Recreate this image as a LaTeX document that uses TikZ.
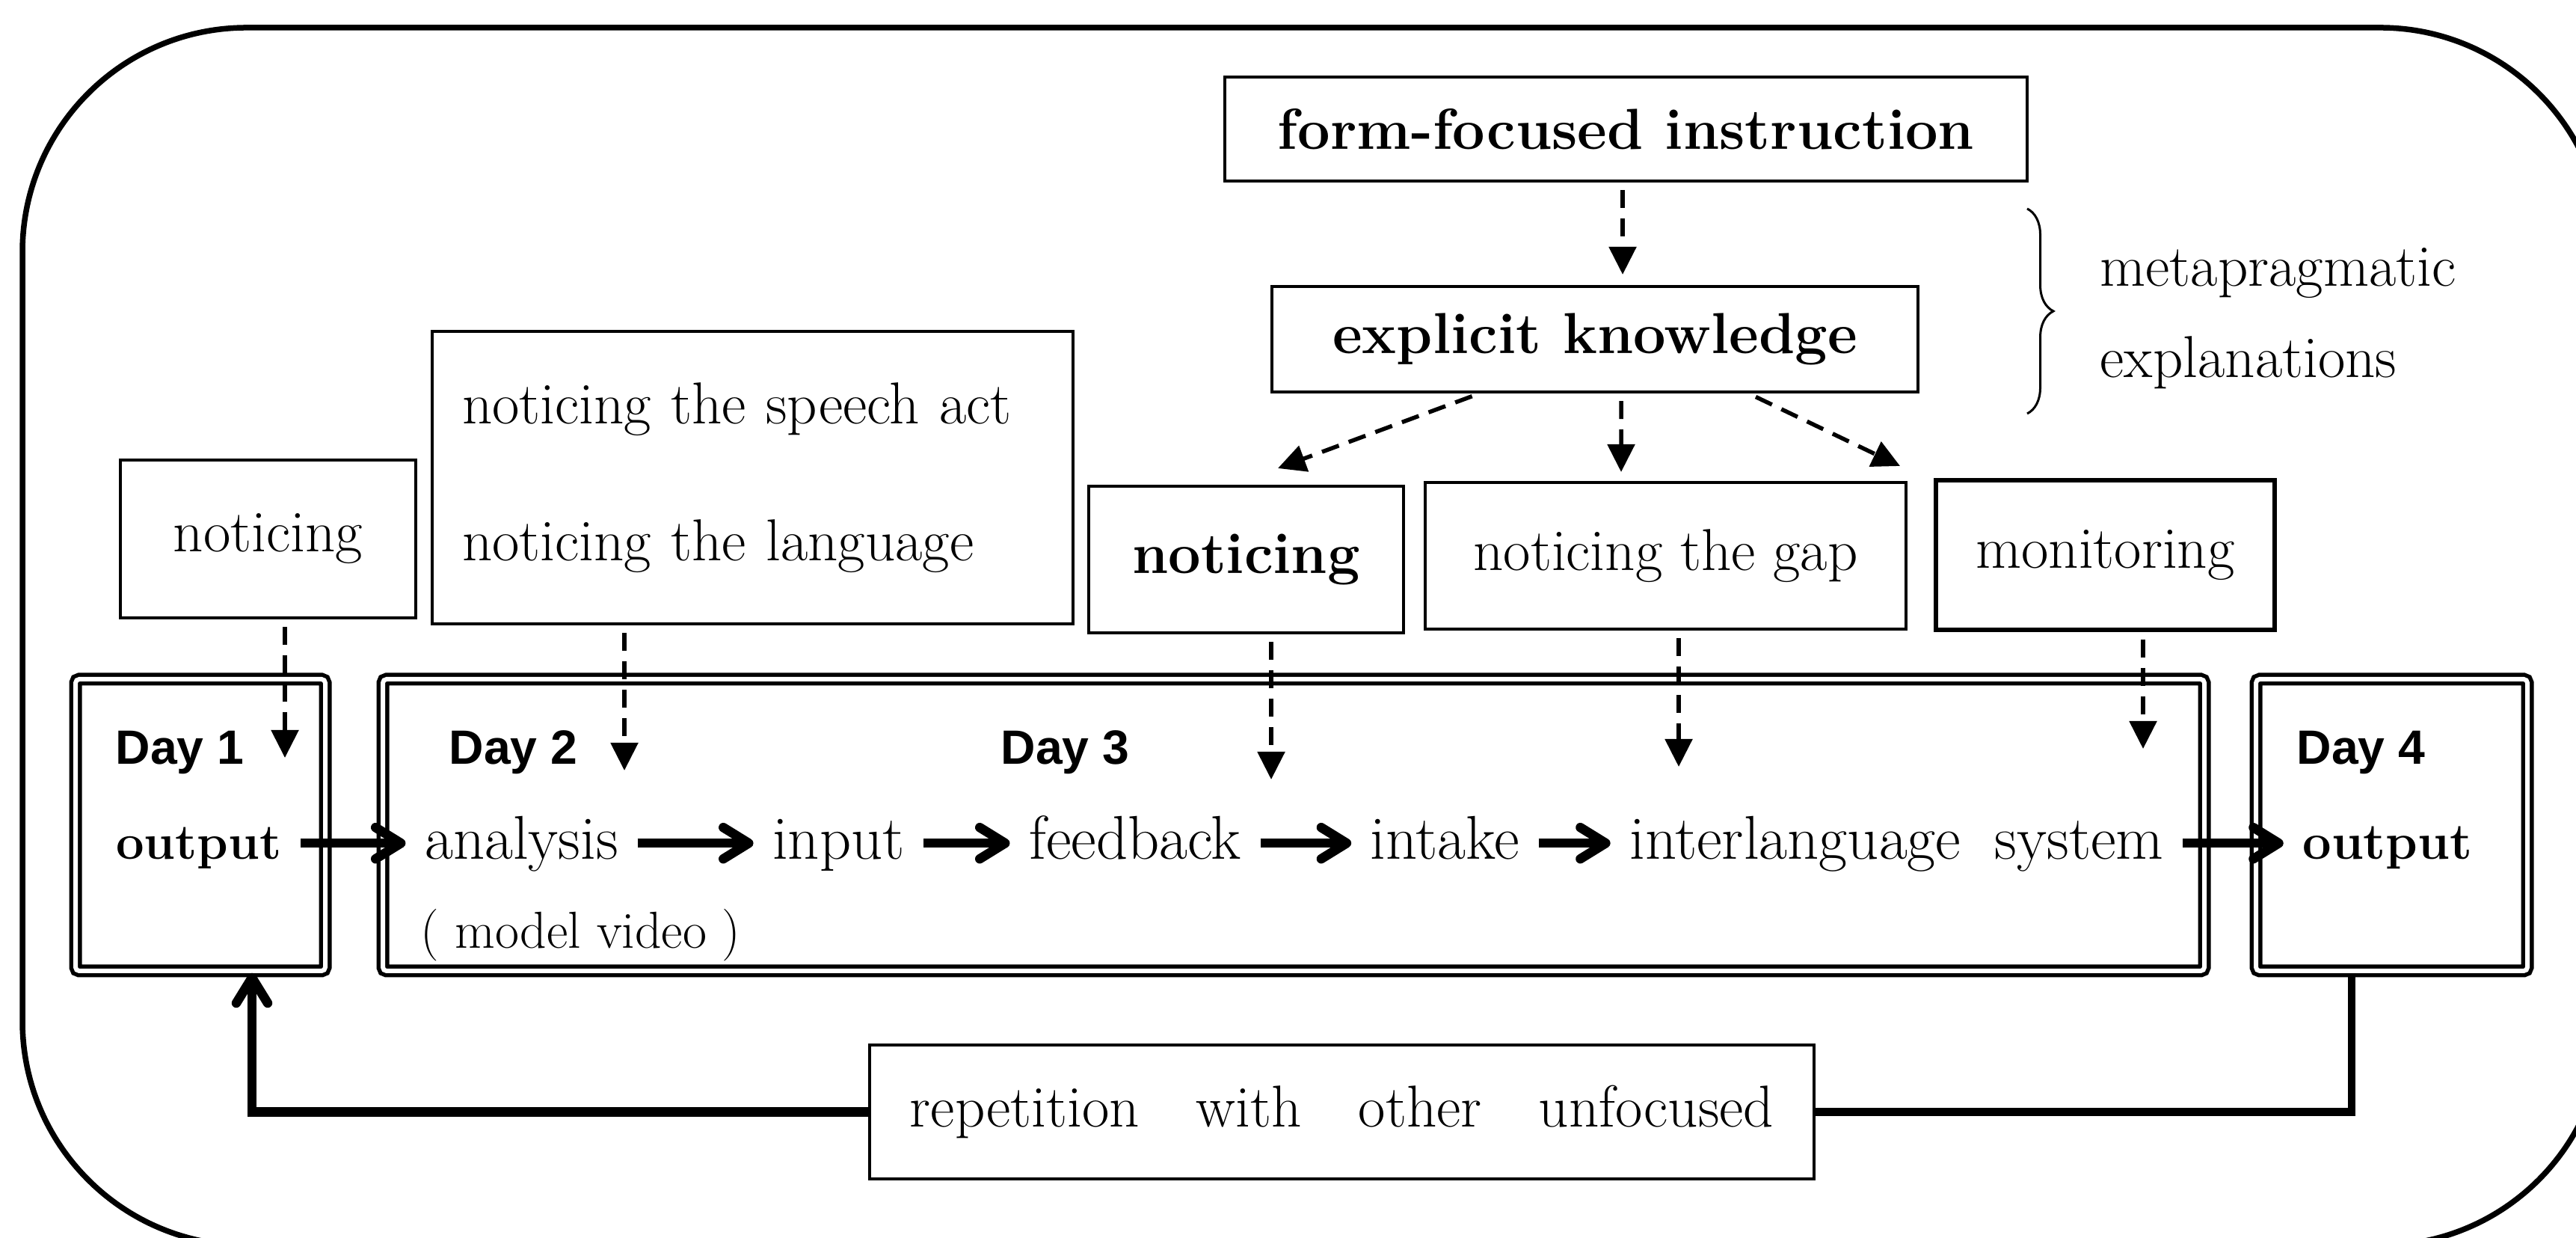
\documentclass[tikz,border=0pt]{standalone}
\usepackage{fontspec}
\newfontfamily\daysf{Liberation Sans}
\usetikzlibrary{arrows.meta,decorations.pathreplacing}

\tikzset{
  box/.style={draw, line width=0.45mm, inner sep=0pt, font=\fontsize{22.5}{25}\selectfont},
  dayframe/.style={draw, double, line width=0.55mm, double distance=0.6mm, rounded corners=0.5mm, inner sep=0pt},
  stage/.style={anchor=base, inner xsep=2.5mm, inner ysep=0pt, text height=14pt, text depth=1.6pt, font=\fontsize{23.5}{27}\selectfont},
  daylab/.style={anchor=base west, inner sep=0pt, font=\daysf\bfseries\fontsize{18.3}{21}\selectfont},
  flow/.style={line width=1.25mm, -{Straight Barb[length=3.4mm,width=4.2mm,round]}},
  cue/.style={line width=0.55mm, dash pattern=on 2.4mm off 1.4mm, shorten <=1mm, -{Triangle[length=3.7mm,width=3.6mm]}},
  loopline/.style={line width=1.05mm}
}

\begin{document}
\begin{tikzpicture}
  \useasboundingbox (0,0) rectangle (34.45,16.55);
  \draw[line width=0.75mm, rounded corners=3cm] (0.30,16.18) rectangle (34.83,-0.10);

  % upper boxes
  \node[box, minimum width=10.73cm, minimum height=1.39cm] (ffi) at (21.745,14.825) {\fontsize{22}{25}\selectfont\bfseries form-focused instruction};
  \node[box, minimum width=8.64cm, minimum height=1.41cm] (ek) at (21.33,12.015) {\fontsize{22}{25}\selectfont\bfseries explicit knowledge};
  \draw[line width=0.3mm, decorate, decoration={brace, amplitude=3.5mm}] (27.11,13.76) -- (27.11,11.02);
  \node[anchor=base west, inner sep=0pt, font=\fontsize{22.5}{25}\selectfont] (meta) at (28.08,12.72) {metapragmatic};
  \node[anchor=base west, inner sep=0pt, font=\fontsize{22.5}{25}\selectfont] (expl) at (28.08,11.50) {explanations};

  \node[box, minimum width=3.95cm, minimum height=2.11cm] (ntc1) at (3.585,9.345) {noticing};
  \node[box, minimum height=3.91cm, text width=7.77cm, inner xsep=4mm, align=left] (nsa) at (10.065,10.165)
    {noticing the speech act\\[27pt]noticing the language};
  \node[box, minimum width=4.21cm, minimum height=1.96cm] (ntc2) at (16.665,9.07) {\fontsize{22}{25}\selectfont\bfseries noticing};
  \node[box, minimum width=6.43cm, minimum height=1.96cm] (gap) at (22.275,9.12) {noticing the gap};
  \node[box, line width=0.6mm, minimum width=4.53cm, minimum height=2.0cm] (mon) at (28.155,9.13) {monitoring};

  % day frames
  \node[dayframe, minimum width=3.34cm, minimum height=3.9cm] (f1) at (2.68,5.52) {};
  \node[dayframe, minimum width=24.36cm, minimum height=3.9cm] (f2) at (17.30,5.52) {};
  \node[dayframe, minimum width=3.63cm, minimum height=3.9cm] (f4) at (31.985,5.52) {};

  \node[daylab] (d1) at (1.54,6.33) {Day 1};
  \node[daylab] (d2) at (6.00,6.33) {Day 2};
  \node[daylab] (d3) at (13.38,6.33) {Day 3};
  \node[daylab] (d4) at (30.71,6.33) {Day 4};

  \node[stage, font=\fontsize{19}{22}\selectfont\bfseries] (out1) at (2.66,5.06) {output};
  \node[stage] (ana) at (6.975,5.06) {analysis};
  \node[stage] (inp) at (11.215,5.06) {input};
  \node[stage] (fb) at (15.18,5.06) {feedback};
  \node[stage] (itk) at (19.325,5.06) {intake};
  \node[stage] (ils) at (25.365,5.06) {interlanguage\hspace{0.55em}system};
  \node[stage, font=\fontsize{19.5}{22}\selectfont\bfseries] (out4) at (31.93,5.06) {output};
  \node[anchor=west, inner sep=0pt, font=\fontsize{19.8}{23}\selectfont] (mv) at (5.62,4.05) {( model video )};

  \node[box, minimum width=12.63cm, minimum height=1.79cm] (rep) at (17.945,1.685)
    {repetition\hspace{7.6mm}with\hspace{7.6mm}other\hspace{7.6mm}unfocused};

  % arrow tips
  \coordinate (k0) at (21.70,12.88);
  \coordinate (k1) at (17.09,10.29);
  \coordinate (k2) at (21.68,10.24);
  \coordinate (k3) at (25.41,10.32);
  \coordinate (t1) at (3.81,6.42);
  \coordinate (t2) at (8.35,6.25);
  \coordinate (t3) at (17.00,6.13);
  \coordinate (t4) at (22.45,6.30);
  \coordinate (t5) at (28.66,6.54);

  \draw[cue] (ffi.south -| k0) -- (k0);
  \draw[cue] ([xshift=-15.5mm]ek.south) -- (k1);
  \draw[cue] ([xshift=3.5mm]ek.south) -- (k2);
  \draw[cue] ([xshift=20.6mm]ek.south) -- (k3);
  \foreach \b/\t in {ntc1/t1, nsa/t2, ntc2/t3, gap/t4, mon/t5}
    \draw[cue] (\b.south -| \t) -- (\t);

  \foreach \a/\b in {out1/ana, ana/inp, inp/fb, fb/itk, itk/ils, ils/out4}
    \draw[flow] (\a) -- (\b);

  \draw[flow] (rep.west) -| ([xshift=6.9mm]f1.south);
  \draw[loopline] ([xshift=-5.35mm]f4.south) |- (rep.east);
\end{tikzpicture}
\end{document}
